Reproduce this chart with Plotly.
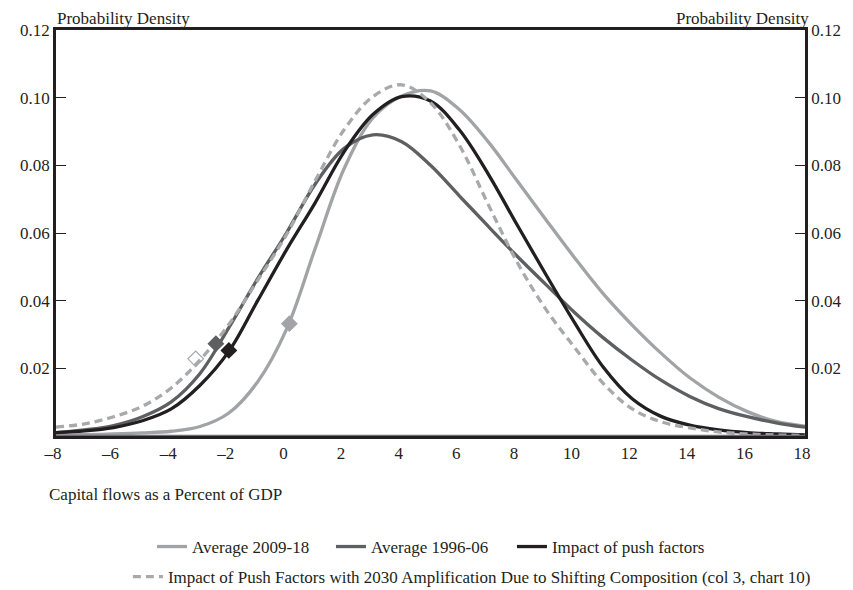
import plotly.graph_objects as go

x_vals = [-8, -7, -6, -5, -4, -3, -2, -1, 0, 1, 2, 3, 4, 5, 6, 7, 8, 9, 10, 11, 12, 13, 14, 15, 16, 17, 18]

avg_2009_18 = [0.0003, 0.0004, 0.0006, 0.0009, 0.0014, 0.0028, 0.0068, 0.0160, 0.0315, 0.0555, 0.0790, 0.0940,
               0.1005, 0.1020, 0.0965, 0.0870, 0.0755, 0.0640, 0.0527, 0.0420, 0.0328, 0.0245, 0.0172,
               0.0115, 0.0072, 0.0043, 0.0029]
avg_1996_06 = [0.0010, 0.0018, 0.0031, 0.0057, 0.0101, 0.0185, 0.0320, 0.0465, 0.0600, 0.0745, 0.0850, 0.0890,
               0.0870, 0.0800, 0.0710, 0.0620, 0.0532, 0.0448, 0.0365, 0.0290, 0.0224, 0.0165, 0.0117,
               0.0081, 0.0057, 0.0039, 0.0026]
push_factors = [0.0010, 0.0015, 0.0025, 0.0045, 0.0080, 0.0150, 0.0250, 0.0400, 0.0550, 0.0690, 0.0840, 0.0950,
                0.1003, 0.0990, 0.0905, 0.0775, 0.0625, 0.0478, 0.0335, 0.0203, 0.0110, 0.0058, 0.0032,
                0.0018, 0.0010, 0.0006, 0.0003]
push_2030 = [0.0026, 0.0036, 0.0057, 0.0088, 0.0142, 0.0225, 0.0330, 0.0460, 0.0595, 0.0755, 0.0905, 0.1003,
             0.1038, 0.0985, 0.0860, 0.0685, 0.0515, 0.0375, 0.0262, 0.0155, 0.0080, 0.0042, 0.0024,
             0.0012, 0.0006, 0.0003, 0.0002]

# highlighted points (one per series)
mark_x = [0.1, -2.45, -2.0, -3.15]
mark_y = [0.0332, 0.0273, 0.0253, 0.0228]

names = ["Average 2009-18", "Average 1996-06", "Impact of push factors",
         "Impact of Push Factors with 2030 Amplification Due to Shifting Composition (col 3, chart 10)"]

x_ticks = [-8, -6, -4, -2, 0, 2, 4, 6, 8, 10, 12, 14, 16, 18]
x_tick_text = ["\u20138", "\u20136", "\u20134", "\u20132", "0", "2", "4", "6", "8", "10", "12", "14", "16", "18"]
y_ticks = [0.02, 0.04, 0.06, 0.08, 0.10, 0.12]
y_tick_text = ["0.02", "0.04", "0.06", "0.08", "0.10", "0.12"]

C_LIGHT = "#a1a3a6"
C_DARK = "#5e5f61"
C_BLACK = "#231f20"
C_DASH = "#a7a9ac"
FONT = "Liberation Serif"
FS = 17

fig = go.Figure()
series = [avg_2009_18, avg_1996_06, push_factors, push_2030]
colors = [C_LIGHT, C_DARK, C_BLACK, C_DASH]
dashes = ["solid", "solid", "solid", "8px,5px"]
legends = ["legend", "legend3", "legend4", "legend2"]
for i in range(4):
    fig.add_trace(go.Scatter(
        x=x_vals, y=series[i], mode="lines", name=names[i],
        line=dict(color=colors[i], width=3.3, dash=dashes[i], shape="spline", smoothing=1.0),
        legend=legends[i], hoverinfo="skip"))

# markers
for i in range(4):
    if i < 3:
        mk = dict(symbol="diamond", size=13, color=colors[i], line=dict(width=0))
    else:
        mk = dict(symbol="diamond-open", size=12, color=C_DASH, line=dict(width=1.2, color=C_DASH))
    fig.add_trace(go.Scatter(x=[mark_x[i]], y=[mark_y[i]], mode="markers", marker=mk,
                             showlegend=False, hoverinfo="skip"))

# invisible trace for right axis
fig.add_trace(go.Scatter(x=[x_vals[0]], y=[0], yaxis="y2", mode="markers",
                         marker=dict(opacity=0), showlegend=False, hoverinfo="skip"))

fig.add_hline(y=0, line=dict(color="#6d6e71", width=2.5), layer="above")

leg_common = dict(orientation="h", xref="container", yref="container", xanchor="left",
                  yanchor="middle", font=dict(family=FONT, size=FS, color=C_BLACK),
                  itemwidth=30, bgcolor="rgba(0,0,0,0)")

fig.update_layout(
    width=845, height=582,
    margin=dict(l=41, r=46, t=22, b=154),
    plot_bgcolor="white", paper_bgcolor="white",
    font=dict(family=FONT, size=FS, color=C_BLACK),
    xaxis=dict(range=[-8, 18], tickvals=x_ticks, ticktext=x_tick_text, showgrid=False, zeroline=False,
               showline=True, linecolor=C_BLACK, linewidth=2.5, mirror=True, ticks="",
               ticklabelshift=-3, tickfont=dict(family=FONT, size=FS, color=C_BLACK)),
    yaxis=dict(range=[0, 0.12], tickvals=y_ticks, ticktext=y_tick_text, showgrid=False, zeroline=False,
               showline=True, linecolor=C_BLACK, linewidth=2.5, ticks="inside", ticklen=10,
               tickwidth=1.2, tickcolor=C_BLACK, tickfont=dict(family=FONT, size=FS, color=C_BLACK)),
    yaxis2=dict(range=[0, 0.12], tickvals=y_ticks, ticktext=y_tick_text, overlaying="y", side="right",
                showgrid=False, zeroline=False, showline=True, linecolor=C_BLACK, linewidth=2.5,
                ticks="inside", ticklen=10, tickwidth=1.2, tickcolor=C_BLACK,
                tickfont=dict(family=FONT, size=FS, color=C_BLACK)),
    legend=dict(leg_common, x=0.1704, y=0.0739),
    legend3=dict(leg_common, x=0.3822, y=0.0739),
    legend4=dict(leg_common, x=0.5964, y=0.0739),
    legend2=dict(orientation="h", xref="container", yref="container", x=0.549, xanchor="center",
                 y=0.0223, yanchor="middle",
                 font=dict(family=FONT, size=FS, color=C_BLACK), itemwidth=30,
                 bgcolor="rgba(0,0,0,0)"),
    showlegend=True,
)

fig.add_annotation(text="Probability Density", xref="paper", yref="paper", x=0.0, y=1,
                   xanchor="left", yanchor="bottom", yshift=1, borderpad=0, showarrow=False,
                   font=dict(family=FONT, size=FS, color=C_BLACK))
fig.add_annotation(text="Probability Density", xref="paper", yref="paper", x=1.007, y=1,
                   xanchor="right", yanchor="bottom", yshift=1, borderpad=0, showarrow=False,
                   font=dict(family=FONT, size=FS, color=C_BLACK))
fig.add_annotation(text="Capital flows as a Percent of GDP", xref="paper", yref="paper",
                   x=-0.012, y=-0.145, xanchor="left", yanchor="middle", showarrow=False,
                   font=dict(family=FONT, size=FS, color=C_BLACK))

fig.write_html("out.html")
